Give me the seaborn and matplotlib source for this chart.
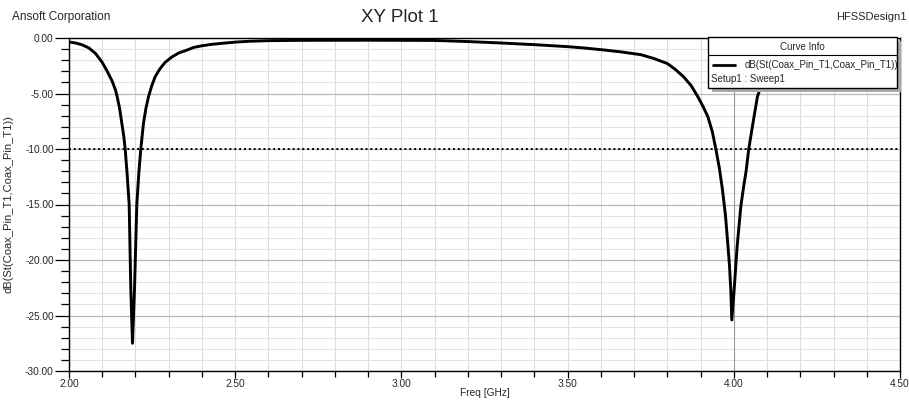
import numpy as np
import pandas as pd
import matplotlib
matplotlib.use("Agg")
import matplotlib.pyplot as plt
import seaborn as sns
from matplotlib.ticker import MultipleLocator, FormatStrFormatter
from matplotlib.patches import Rectangle
from matplotlib.lines import Line2D

# ---- data ----
freq_ghz = [2.000, 2.020, 2.040, 2.060, 2.080, 2.100, 2.115, 2.130, 2.140, 2.145,
            2.152, 2.159, 2.165, 2.169, 2.175, 2.181, 2.186, 2.191, 2.197, 2.204,
            2.210, 2.216, 2.224, 2.231, 2.239, 2.249, 2.259, 2.273, 2.289, 2.310,
            2.330, 2.354, 2.375, 2.400, 2.430, 2.464, 2.500, 2.540, 2.600, 2.700,
            2.900, 3.100, 3.200, 3.300, 3.400, 3.500, 3.550, 3.610, 3.660, 3.720,
            3.760, 3.800, 3.825, 3.849, 3.872, 3.892, 3.908, 3.922, 3.935, 3.946,
            3.957, 3.966, 3.975, 3.981, 3.987, 3.991, 3.994, 4.001, 4.010, 4.021,
            4.030, 4.037, 4.045, 4.058, 4.071, 4.090, 4.110, 4.140, 4.180, 4.250,
            4.350, 4.500]
s11_db = [-0.36, -0.45, -0.62, -0.90, -1.40, -2.20, -3.00, -3.90, -4.70, -5.30,
          -6.30, -7.70, -8.90, -10.00, -12.30, -15.00, -22.70, -27.50, -22.70, -15.00,
          -12.20, -10.00, -7.70, -6.40, -5.30, -4.30, -3.50, -2.80, -2.20, -1.70,
          -1.35, -1.10, -0.85, -0.70, -0.57, -0.47, -0.37, -0.30, -0.24, -0.21,
          -0.20, -0.22, -0.32, -0.45, -0.60, -0.78, -0.90, -1.08, -1.25, -1.50,
          -1.85, -2.30, -2.85, -3.50, -4.30, -5.30, -6.20, -7.10, -8.40, -10.00,
          -11.80, -13.70, -16.00, -18.20, -20.50, -22.70, -25.40, -22.70, -18.80, -15.20,
          -13.30, -12.00, -10.00, -7.60, -5.30, -3.60, -2.50, -1.70, -1.20, -0.85,
          -0.65, -0.50]
threshold_db = -10.0
marker_freq = 4.0

title = "XY Plot 1"
left_note = "Ansoft Corporation"
right_note = "HFSSDesign1"
x_label = "Freq [GHz]"
y_label = "dB(St(Coax_Pin_T1,Coax_Pin_T1))"
legend_title = "Curve Info"
legend_curve = "dB(St(Coax_Pin_T1,Coax_Pin_T1))"
legend_setup = "Setup1 : Sweep1"

df = pd.DataFrame({"freq": freq_ghz, "db": s11_db})

sns.set_theme(style="white")
plt.rcParams['font.family'] = ['Liberation Sans', 'DejaVu Sans']
plt.rcParams['axes.unicode_minus'] = False

W, H = 909, 400
fig = plt.figure(figsize=(W / 100, H / 100), dpi=100)
fig.patch.set_facecolor("white")

def fx(px):
    return px / W

def fy(py):
    return 1 - py / H

ax = fig.add_axes([fx(69), fy(371), fx(900) - fx(69), fy(38) - fy(371)])
ax.set_facecolor("white")

sns.lineplot(data=df, x="freq", y="db", ax=ax, color="black", linewidth=2.1,
             sort=False, zorder=5)

ax.axhline(threshold_db, color="black", linestyle=(0, (1, 1.5)), linewidth=1.4, zorder=4)
ax.axvline(marker_freq, color="#9a9a9a", linewidth=0.8, zorder=2)

ax.set_xlim(2.0, 4.5)
ax.set_ylim(-30, 0)
ax.xaxis.set_major_locator(MultipleLocator(0.5))
ax.xaxis.set_minor_locator(MultipleLocator(0.1))
ax.yaxis.set_major_locator(MultipleLocator(5))
ax.yaxis.set_minor_locator(MultipleLocator(1))
ax.xaxis.set_major_formatter(FormatStrFormatter("%.2f"))
ax.yaxis.set_major_formatter(FormatStrFormatter("%.2f"))

ax.grid(which="major", axis="y", color="#b8b8b8", linewidth=0.9, zorder=1)
ax.grid(which="minor", axis="y", color="#e3e3e3", linewidth=0.8, zorder=1)
ax.grid(which="both", axis="x", color="#dcdcdc", linewidth=0.8, zorder=1)
ax.set_axisbelow(True)

for s in ax.spines.values():
    s.set_color("black")
    s.set_linewidth(1.0)

ax.tick_params(axis="y", which="major", direction="out", length=10, width=0.9,
               color="black", labelsize=7.3, pad=1, left=True)
ax.tick_params(axis="y", which="minor", direction="out", length=6, width=0.9,
               color="black", left=True)
ax.tick_params(axis="x", which="major", direction="out", length=5, width=0.9,
               color="black", labelsize=7.3, pad=1, bottom=True)
ax.tick_params(axis="x", which="minor", direction="out", length=4, width=0.9,
               color="black", bottom=True)

ax.set_xlabel(x_label, fontsize=7.3)
ax.set_ylabel(y_label, fontsize=8)
ax.xaxis.set_label_coords(0.5, -0.05)
ax.yaxis.set_label_coords(-0.067, 0.5)

# header texts
fig.text(fx(12), fy(17), left_note, fontsize=8.5, ha="left", va="center")
fig.text(fx(400), fy(17), title, fontsize=13.5, ha="center", va="center")
fig.text(fx(907), fy(17), right_note, fontsize=8, ha="right", va="center")

# "Curve Info" box
bx0, by0, bx1, by1 = 708, 37, 897, 88
fig.patches.append(Rectangle((fx(bx0 + 4), fy(by1 + 4)), fx(bx1) - fx(bx0), fy(by0) - fy(by1),
                             transform=fig.transFigure, facecolor="#a8a8a8",
                             edgecolor="none", zorder=20))
fig.patches.append(Rectangle((fx(bx0), fy(by1)), fx(bx1) - fx(bx0), fy(by0) - fy(by1),
                             transform=fig.transFigure, facecolor="white",
                             edgecolor="black", linewidth=1.0, zorder=21))
fig.lines.append(Line2D([fx(bx0), fx(bx1)], [fy(55), fy(55)], transform=fig.transFigure,
                        color="black", linewidth=0.8, zorder=22))
fig.lines.append(Line2D([fx(713), fx(735)], [fy(65), fy(65)], transform=fig.transFigure,
                        color="black", linewidth=2.0, zorder=22))
fig.text(fx((bx0 + bx1) / 2), fy(46.5), legend_title, fontsize=7, ha="center", va="center", zorder=23)
fig.text(fx(745), fy(65), legend_curve, fontsize=7, ha="left", va="center", zorder=23)
fig.text(fx(711), fy(79), legend_setup, fontsize=7, ha="left", va="center", zorder=23)

fig.savefig("out.png", dpi=100, facecolor="white")
